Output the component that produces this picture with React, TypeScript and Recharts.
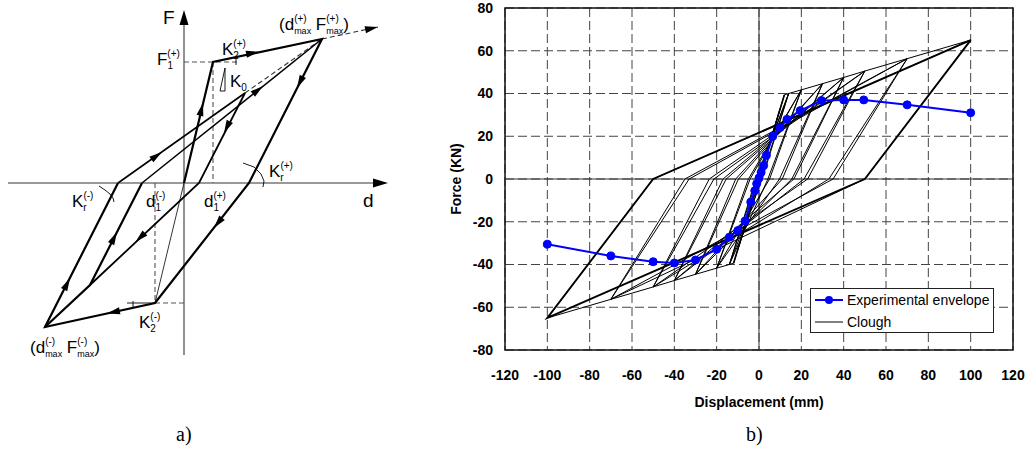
import React from "react";
import {
  CartesianGrid,
  ComposedChart,
  Legend,
  Line,
  ReferenceArea,
  ReferenceLine,
  Scatter,
  XAxis,
  YAxis,
} from "recharts";

const FONT = '"Liberation Sans", Arial, Helvetica, sans-serif';

// ---------------- panel b) data ----------------
const X_TICKS = [-120, -100, -80, -60, -40, -20, 0, 20, 40, 60, 80, 100, 120];
const Y_TICKS = [-80, -60, -40, -20, 0, 20, 40, 60, 80];

// experimental envelope (blue dots)
const ENV_D = [-100, -70, -50, -40, -30, -20, -14, -10, -6.6, -3.9, -2, -1.1, 0, 1, 2.2, 3.5, 6.5, 10, 13.2, 19.5, 29.5, 40, 49.5, 70, 100];
const ENV_F = [-30.5, -36, -38.7, -39.3, -37.9, -32.9, -27.2, -24.1, -19.7, -10.8, -5.5, -2.2, 0.5, 3.1, 6.3, 11.1, 20, 24.1, 27.9, 32, 36.7, 37, 37, 34.7, 31];

// Clough hysteresis path, vertices in loading order
const CLOUGH_D = [
  0, 6.5, -6.5, 10, -10, 12, 14, 1, -10, -12, -14, -1, 14, 1.5, -14, -1.5, 14,
  20, 4.2, -14, -20, -4.2, 20, 5, -20, -5, 20,
  30, 9.7, -20, -30, -9.7, 30, 11, -30, -11, 30,
  40, 15.5, -30, -40, -15.5, 40, 16.5, -40, -17, 40,
  50, 21.3, -40, -50, -21.3, 50, 23, -50, -23.5, 50,
  70, 33, -50, -70, -33, 70, 35, -70, -35, 70,
  100, 50, -70, -100, -50, 100,
];
const CLOUGH_F = [
  0, 21.5, -21.5, 33, -33, 39.4, 40, 0, -33, -39.4, -40, 0, 40, 0, -40, 0, 40,
  41.7, 0, -40, -41.7, 0, 41.7, 0, -41.7, 0, 41.7,
  44.6, 0, -41.7, -44.6, 0, 44.6, 0, -44.6, 0, 44.6,
  47.5, 0, -44.6, -47.5, 0, 47.5, 0, -47.5, 0, 47.5,
  50.5, 0, -47.5, -50.5, 0, 50.5, 0, -50.5, 0, 50.5,
  56.3, 0, -50.5, -56.3, 0, 56.3, 0, -56.3, 0, 56.3,
  65, 0, -56.3, -65, 0, 65,
];

// last (largest) cycle, drawn heavier
const OUTER_D = [100, 50, -100, -50, 100];
const OUTER_F = [65, 0, -65, 0, 65];
const ELASTIC_D = [-12, 12];
const ELASTIC_F = [-39.4, 39.4];

// ---------------- panel a) sketch data (d, F in sketch units) ----------------
const SK_MAIN_D = [0, 29, 138, 65, -29, -139, -66];
const SK_MAIN_F = [0, 121, 144, 0, -120, -144, 0];
const SK_RELOAD_D = [-66, 61];
const SK_RELOAD_F = [0, 90];
const SK_RELOAD_END_D = [61, 138];
const SK_RELOAD_END_F = [90, 144];
const SK_UNLOAD_D = [61, 15, -94];
const SK_UNLOAD_F = [90, 0, -102];
const SK_INNER_D = [-139, -94, -42];
const SK_INNER_F = [-144, -102, 0];
const SK_INNER_UP_D = [-42, 138];
const SK_INNER_UP_F = [0, 144];
const SK_K0_NEG_D = [0, -29];
const SK_K0_NEG_F = [0, -120];
const SK_EXT_D = [138, 194];
const SK_EXT_F = [144, 156];
const SK_AXIS_F_D = [0, 0];
const SK_AXIS_F_F = [-172, 166];
const SK_AXIS_D_D = [-176, 196];
const SK_AXIS_D_F = [0, 0];
const SK_GUIDE_F1H_D = [0, 53];
const SK_GUIDE_F1H_F = [121, 121];
const SK_GUIDE_D1P_D = [29, 29];
const SK_GUIDE_D1P_F = [121, 0];
const SK_GUIDE_D1M_D = [-29, -29];
const SK_GUIDE_D1M_F = [0, -120];
const SK_GUIDE_F2H_D = [-29, 0];
const SK_GUIDE_F2H_F = [-120, -120];
const SK_K2M_BASE_D = [-57, -29];
const SK_K2M_BASE_F = [-120, -120];
const SK_K2M_TICK_D = [-51, -51];
const SK_K2M_TICK_F = [-118, -124];
const SK_K2P_TICK_D = [52, 52];
const SK_K2P_TICK_F = [118, 125];
const SK_K0_TRI_D = [36, 41, 41, 36];
const SK_K0_TRI_F = [92, 115, 92, 92];
const SK_ARC_P_D = [59, 70, 77, 80, 79];
const SK_ARC_P_F = [20, 16, 9, 2, -4];
const SK_ARC_M_D = [-85, -79, -74, -71, -70];
const SK_ARC_M_F = [-3, -7, -11, -15, -19];

// arrow tips and a point further along the direction of travel
const ARROW_D = [19, 75, 194, 113, 30, -77, -114, -22, 40, -48.5, -67, 79];
const ARROW_F = [80, 131.3, 156, 95, -45, -130.5, -95, 31, 50, -59, -49, 97];
const ARROW_TD = [29, 138, 250, 65, -29, -139, -66, 138, 15, -94, -42, 138];
const ARROW_TF = [121, 144, 168, 0, -120, -144, 0, 144, 0, -102, 0, 144];
const AXIS_ARROW_D = [0, 204];
const AXIS_ARROW_F = [173, 0];
const AXIS_ARROW_TD = [0, 300];
const AXIS_ARROW_TF = [300, 0];

const LABEL_KEYS = ["F", "F1p", "K2p", "K0", "dmaxp", "Krp", "Krm", "d1m", "d1p", "d", "K2m", "dmaxm"];
const LABEL_D = [-21, -27, 38, 46, 95, 85, -112, -38, 20, 179, -45, -154];
const LABEL_F = [159, 118, 128, 96, 153, 6, -24, -24, -24, -24, -145, -170];

type Pt = { x: number; y: number };
const toPts = (xs: number[], ys: number[]): Pt[] => xs.map((x, i) => ({ x, y: ys[i] }));

const cloughRows = toPts(CLOUGH_D, CLOUGH_F);
const outerRows = toPts(OUTER_D, OUTER_F);
const elasticRows = toPts(ELASTIC_D, ELASTIC_F);
const envRows = toPts(ENV_D, ENV_F);

const arrowRows = ARROW_D.map((x, i) => ({ x, y: ARROW_F[i], tx: ARROW_TD[i], ty: ARROW_TF[i] }));
const axisArrowRows = AXIS_ARROW_D.map((x, i) => ({ x, y: AXIS_ARROW_F[i], tx: AXIS_ARROW_TD[i], ty: AXIS_ARROW_TF[i] }));
const labelRows = LABEL_KEYS.map((k, i) => ({ x: LABEL_D[i], y: LABEL_F[i], k }));

type SketchLine = { d: number[]; f: number[]; w: number; dash?: string; color?: string };
const SKETCH_LINES: SketchLine[] = [
  { d: SK_AXIS_F_D, f: SK_AXIS_F_F, w: 1.6, color: "#777" },
  { d: SK_AXIS_D_D, f: SK_AXIS_D_F, w: 1.6, color: "#777" },
  { d: SK_GUIDE_F1H_D, f: SK_GUIDE_F1H_F, w: 1.1, dash: "5 3", color: "#555" },
  { d: SK_GUIDE_D1P_D, f: SK_GUIDE_D1P_F, w: 1.1, dash: "5 3", color: "#555" },
  { d: SK_GUIDE_D1M_D, f: SK_GUIDE_D1M_F, w: 1.1, dash: "5 3", color: "#555" },
  { d: SK_GUIDE_F2H_D, f: SK_GUIDE_F2H_F, w: 1.1, dash: "5 3", color: "#555" },
  { d: SK_K2M_BASE_D, f: SK_K2M_BASE_F, w: 0.9 },
  { d: SK_K2M_TICK_D, f: SK_K2M_TICK_F, w: 0.9 },
  { d: SK_K2P_TICK_D, f: SK_K2P_TICK_F, w: 0.9 },
  { d: SK_K0_TRI_D, f: SK_K0_TRI_F, w: 0.9 },
  { d: SK_ARC_P_D, f: SK_ARC_P_F, w: 0.9 },
  { d: SK_ARC_M_D, f: SK_ARC_M_F, w: 0.9 },
  { d: SK_K0_NEG_D, f: SK_K0_NEG_F, w: 0.8 },
  { d: SK_EXT_D, f: SK_EXT_F, w: 1.1, dash: "5 3", color: "#333" },
  { d: SK_RELOAD_END_D, f: SK_RELOAD_END_F, w: 1.1, dash: "5 3", color: "#333" },
  { d: SK_RELOAD_D, f: SK_RELOAD_F, w: 1.6 },
  { d: SK_INNER_UP_D, f: SK_INNER_UP_F, w: 1.6 },
  { d: SK_UNLOAD_D, f: SK_UNLOAD_F, w: 1.8 },
  { d: SK_INNER_D, f: SK_INNER_F, w: 2.2 },
  { d: SK_MAIN_D, f: SK_MAIN_F, w: 2.2 },
];

const ArrowHead = (len: number, hw: number) => (props: any) => {
  const { cx, cy, payload } = props;
  if (cx == null || cy == null) return <g />;
  const ang = (Math.atan2(-(payload.ty - payload.y), payload.tx - payload.x) * 180) / Math.PI;
  return (
    <polygon
      points={`0,0 ${-len},${-hw} ${-len},${hw}`}
      transform={`translate(${cx},${cy}) rotate(${ang})`}
      fill="#000"
    />
  );
};

const SM = 10;
const BIG = 17;

function stacked(base: string, sub: string, sup: string, subW: number, k: string) {
  return [
    <tspan key={k + "b"}>{base}</tspan>,
    <tspan key={k + "s"} fontSize={SM} dy={4}>{sub}</tspan>,
    <tspan key={k + "p"} fontSize={SM} dx={-subW} dy={-12}>{sup}</tspan>,
  ];
}

const SketchLabel = (props: any) => {
  const { cx, cy, payload } = props;
  if (cx == null || cy == null) return <g />;
  const common = { x: cx, y: cy, fontSize: BIG, fill: "#000", fontFamily: FONT };
  switch (payload.k) {
    case "F":
      return <text {...common} fontSize={19}>F</text>;
    case "d":
      return <text {...common} fontSize={19}>d</text>;
    case "F1p":
      return <text {...common}>{stacked("F", "1", "(+)", 5.6, "a")}</text>;
    case "K2p":
      return <text {...common}>{stacked("K", "2", "(+)", 5.6, "b")}</text>;
    case "K2m":
      return <text {...common}>{stacked("K", "2", "(-)", 5.6, "c")}</text>;
    case "K0":
      return (
        <text {...common}>
          K<tspan fontSize={SM} dy={4}>0</tspan>
        </text>
      );
    case "Krp":
      return <text {...common}>{stacked("K", "r", "(+)", 3.3, "e")}</text>;
    case "Krm":
      return <text {...common}>{stacked("K", "r", "(-)", 3.3, "f")}</text>;
    case "d1m":
      return <text {...common}>{stacked("d", "1", "(-)", 5.6, "g")}</text>;
    case "d1p":
      return <text {...common}>{stacked("d", "1", "(+)", 5.6, "h")}</text>;
    case "dmaxp":
    case "dmaxm": {
      const s = payload.k === "dmaxp" ? "(+)" : "(-)";
      const back = payload.k === "dmaxp" ? 4.5 : 7;
      return (
        <text {...common}>
          (d
          <tspan fontSize={9} dy={4}>max</tspan>
          <tspan fontSize={SM} dx={-17} dy={-12}>{s}</tspan>
          <tspan dx={back} dy={8}> F</tspan>
          <tspan fontSize={9} dy={4}>max</tspan>
          <tspan fontSize={SM} dx={-17} dy={-12}>{s}</tspan>
          <tspan dx={back} dy={8}>)</tspan>
        </text>
      );
    }
    default:
      return <g />;
  }
};

const tickStyle = { fontSize: 14, fontWeight: 700, fill: "#000", fontFamily: FONT };

const XTitle = (p: any) => {
  const vb = p.viewBox || { x: 85, y: 350, width: 508, height: 30 };
  return (
    <text x={vb.x + vb.width / 2} y={vb.y + 57} textAnchor="middle" style={tickStyle}>
      Displacement (mm)
    </text>
  );
};

const YTitle = (p: any) => {
  const vb = p.viewBox || { x: 40, y: 8, width: 45, height: 342 };
  const cx = vb.x - 4;
  const cy = vb.y + vb.height / 2;
  return (
    <text
      x={cx}
      y={cy}
      transform={`rotate(-90 ${cx} ${cy})`}
      textAnchor="middle"
      dominantBaseline="central"
      style={tickStyle}
    >
      Force (KN)
    </text>
  );
};

const renderLegend = () => (
  <div
    style={{
      width: 182,
      height: 43,
      border: "1px solid #222",
      background: "#fff",
      fontFamily: FONT,
      fontSize: 14,
      color: "#000",
    }}
  >
    <div style={{ display: "flex", alignItems: "center", height: 22 }}>
      <svg width={36} height={22}>
        <line x1={4} y1={11} x2={32} y2={11} stroke="#0000ff" strokeWidth={2} />
        <circle cx={18} cy={11} r={4} fill="#0000ff" />
      </svg>
      <span>Experimental envelope</span>
    </div>
    <div style={{ display: "flex", alignItems: "center", height: 22 }}>
      <svg width={36} height={22}>
        <line x1={4} y1={11} x2={32} y2={11} stroke="#000" strokeWidth={1} />
      </svg>
      <span>Clough</span>
    </div>
  </div>
);

export default function App() {
  return (
    <div
      style={{
        position: "absolute",
        left: 0,
        top: 0,
        width: 1025,
        height: 458,
        background: "#fff",
        fontFamily: FONT,
        overflow: "hidden",
      }}
    >
      {/* a) schematic of the Clough rule */}
      <div style={{ position: "absolute", left: 0, top: 0 }}>
        <ComposedChart width={400} height={380} margin={{ top: 0, right: 0, bottom: 0, left: 0 }}>
          <XAxis type="number" dataKey="x" domain={[-184, 216]} hide allowDataOverflow />
          <YAxis type="number" dataKey="y" domain={[-197, 183]} hide allowDataOverflow />
          {SKETCH_LINES.map((s, i) => (
            <Line
              key={"sk" + i}
              data={toPts(s.d, s.f)}
              dataKey="y"
              type="linear"
              stroke={s.color || "#000"}
              strokeWidth={s.w}
              strokeDasharray={s.dash}
              dot={false}
              activeDot={false}
              isAnimationActive={false}
              legendType="none"
            />
          ))}
          <Scatter data={arrowRows} shape={ArrowHead(13, 3.5)} isAnimationActive={false} legendType="none" />
          <Scatter data={axisArrowRows} shape={ArrowHead(15, 4.5)} isAnimationActive={false} legendType="none" />
          <Scatter data={labelRows} shape={SketchLabel} isAnimationActive={false} legendType="none" />
        </ComposedChart>
      </div>

      {/* b) Clough model vs experimental envelope */}
      <div style={{ position: "absolute", left: 420, top: 0 }}>
        <ComposedChart width={605} height={430} margin={{ top: 8, right: 12, bottom: 50, left: 40 }}>
          <CartesianGrid stroke="#444" strokeDasharray="9 4" strokeWidth={1} />
          <ReferenceLine x={0} stroke="#333" strokeWidth={1} />
          <ReferenceLine y={0} stroke="#333" strokeWidth={1} />
          <XAxis
            type="number"
            dataKey="x"
            domain={[-120, 120]}
            ticks={X_TICKS}
            tickLine={false}
            axisLine={false}
            tick={tickStyle}
            tickMargin={14}
            height={30}
            allowDataOverflow
            label={{ content: XTitle }}
          />
          <YAxis
            type="number"
            dataKey="y"
            domain={[-80, 80]}
            ticks={Y_TICKS}
            tickLine={false}
            axisLine={false}
            tick={tickStyle}
            tickMargin={6}
            width={45}
            allowDataOverflow
            label={{ content: YTitle }}
          />
          <Line
            data={cloughRows}
            dataKey="y"
            type="linear"
            stroke="#000"
            strokeWidth={1}
            dot={false}
            activeDot={false}
            isAnimationActive={false}
            legendType="none"
          />
          <Line
            data={elasticRows}
            dataKey="y"
            type="linear"
            stroke="#000"
            strokeWidth={1.6}
            dot={false}
            activeDot={false}
            isAnimationActive={false}
            legendType="none"
          />
          <Line
            data={outerRows}
            dataKey="y"
            type="linear"
            stroke="#000"
            strokeWidth={1.9}
            dot={false}
            activeDot={false}
            isAnimationActive={false}
            legendType="none"
          />
          <Line
            data={envRows}
            dataKey="y"
            type="linear"
            stroke="#0000ff"
            strokeWidth={2}
            dot={{ r: 4, fill: "#0000ff", stroke: "#0000ff", strokeWidth: 1 }}
            activeDot={false}
            isAnimationActive={false}
            legendType="none"
          />
          <ReferenceArea x1={-120} x2={120} y1={-80} y2={80} fill="none" stroke="#111" strokeWidth={1.5} />
          <Legend
            layout="vertical"
            align="center"
            verticalAlign="middle"
            content={renderLegend}
            wrapperStyle={{ left: 390, top: 288, width: 186, height: 47 }}
          />
        </ComposedChart>
      </div>

      <div style={{ position: "absolute", left: 176, top: 423, fontFamily: '"Liberation Serif", "Times New Roman", serif', fontSize: 20 }}>
        a)
      </div>
      <div style={{ position: "absolute", left: 746, top: 423, fontFamily: '"Liberation Serif", "Times New Roman", serif', fontSize: 20 }}>
        b)
      </div>
    </div>
  );
}
